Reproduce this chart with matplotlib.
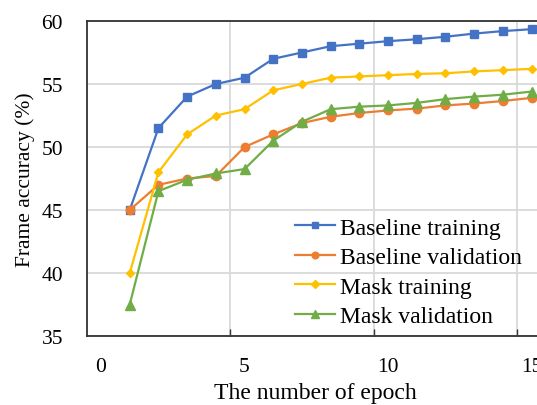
import matplotlib
matplotlib.use("Agg")
import matplotlib.pyplot as plt

epochs = list(range(1, 16))
baseline_training = [45.0, 51.5, 54.0, 55.0, 55.5, 57.0, 57.5, 58.0, 58.2, 58.4, 58.55, 58.75, 59.0, 59.2, 59.35]
baseline_validation = [45.0, 47.0, 47.5, 47.7, 50.0, 51.0, 51.9, 52.4, 52.7, 52.9, 53.05, 53.3, 53.45, 53.65, 53.9]
mask_training = [40.0, 48.0, 51.0, 52.5, 53.0, 54.5, 55.0, 55.5, 55.6, 55.7, 55.8, 55.85, 56.0, 56.1, 56.2]
mask_validation = [37.5, 46.5, 47.4, 47.9, 48.25, 50.5, 52.0, 53.0, 53.2, 53.3, 53.5, 53.8, 54.0, 54.15, 54.4]
series_names = ["Baseline training", "Baseline validation", "Mask training", "Mask validation"]
xtick_labels = ["0", "5", "10", "15"]
ytick_values = [35, 40, 45, 50, 55, 60]

plt.rcParams['font.family'] = ['Liberation Serif', 'DejaVu Serif']

W, H = 537, 406
fig = plt.figure(figsize=(W / 100, H / 100), dpi=100)
left_px, right_px, top_px, bot_px = 86.7, 545, 22, 337
ax = fig.add_axes([left_px / W, 1 - bot_px / H, (right_px - left_px) / W, (bot_px - top_px) / H])

unit = 28.7
xmin = -0.5
xmax = xmin + (right_px - left_px) / unit
ax.set_xlim(xmin, xmax)
ax.set_ylim(35, 60)

styles = [
    dict(color="#4472C4", marker="s", markersize=6),
    dict(color="#ED7D31", marker="o", markersize=6),
    dict(color="#FFC000", marker="D", markersize=4.5),
    dict(color="#70AD47", marker="^", markersize=7),
]
for data, name, st in zip([baseline_training, baseline_validation, mask_training, mask_validation], series_names, styles):
    ax.plot(epochs, data, linewidth=1.6, label=name, clip_on=False, zorder=3, **st)

# grid positions (major) and label positions (minor)
ax.set_xticks([4.5, 9.5, 14.5])
ax.set_xticklabels([])
ax.set_xticks([0, 5, 10, 15], minor=True)
ax.set_xticklabels(xtick_labels, minor=True)
ax.tick_params(axis='x', which='major', direction='in', length=5, width=1, color='#333333')
ax.tick_params(axis='x', which='minor', length=0, pad=15, labelsize=15.5)
ax.set_yticks(ytick_values)
ax.tick_params(axis='y', direction='in', length=0, pad=17, labelsize=15.5)
ax.grid(True, which='major', color='#d9d9d9', linewidth=1.3)
ax.set_axisbelow(True)

for s in ['left', 'bottom', 'top']:
    ax.spines[s].set_color('#333333')
    ax.spines[s].set_linewidth(1.3)
ax.spines['right'].set_visible(False)

ax.set_xlabel("The number of epoch", fontsize=17, labelpad=4.5)
ax.set_ylabel("Frame accuracy (%)", fontsize=15.5, labelpad=5)

leg = ax.legend(loc='upper left', bbox_to_anchor=(295 / W, 1 - 218 / H), bbox_transform=fig.transFigure,
                frameon=False, fontsize=17, borderpad=0, borderaxespad=0, labelspacing=0.34,
                handlelength=1.7, handletextpad=0.2, markerscale=0.8)

fig.savefig("out.png", dpi=100)
